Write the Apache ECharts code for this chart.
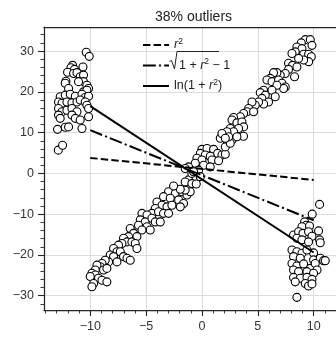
<!DOCTYPE html>
<html>
<head>
<meta charset="utf-8">
<script src="https://cdn.jsdelivr.net/npm/echarts@6/dist/echarts.min.js"></script>
<style>html,body{margin:0;padding:0;background:#fff}#c{width:336px;height:337px}</style>
</head>
<body>
<div id="c"></div>
<script>
// ---- data ----
const titleText = '38% outliers';
const xTicks = [-10, -5, 0, 5, 10];
const xMinorTicks = [-14, -13, -12, -11, -10, -9, -8, -7, -6, -5, -4, -3, -2, -1, 0, 1, 2, 3, 4, 5, 6, 7, 8, 9, 10, 11, 12];
const yTicks = [-30, -20, -10, 0, 10, 20, 30];
const yMinorTicks = [-32, -30, -28, -26, -24, -22, -20, -18, -16, -14, -12, -10, -8, -6, -4, -2, 0, 2, 4, 6, 8, 10, 12, 14, 16, 18, 20, 22, 24, 26, 28, 30, 32, 34];
const xRange = [-14.14, 12.0];
const yRange = [-33.5, 35.9];

const inliers = [
  [-2.99,-4.5],[-2.39,-4.9],[-1.79,-4.5],[-1.34,-5.3],[-3.44,-5.7],[-2.84,-6.1],[-2.09,-6.5],[-1.65,-7.4],[-1.94,-8.2],
  [-4.03,-7.0],[-3.58,-7.8],[-3.13,-8.2],[-2.69,-7.8],[-4.18,-8.6],[-4.48,-9.8],[-3.89,-9.4],[-3.44,-9.8],[-2.99,-9.8],
  [-5.37,-9.8],[-4.92,-10.2],[-5.52,-11.4],[-5.08,-11.9],[-4.48,-11.0],[-4.18,-11.9],[-3.73,-11.9],[-5.68,-12.7],
  [-4.92,-13.1],[-4.63,-13.9],[-5.37,-13.9],[-6.42,-13.5],[-6.12,-14.7],[-5.82,-15.5],[-6.57,-15.5],[-7.02,-15.9],
  [-6.71,-16.8],[-6.27,-16.8],[-5.97,-17.2],[-5.82,-18.4],[-7.16,-17.2],[-7.47,-17.6],[-7.91,-18.4],[-7.61,-19.2],
  [-7.31,-19.2],[-8.21,-20.0],[-7.91,-20.4],[-7.02,-20.4],[-6.71,-20.8],[-6.42,-21.3],[-7.61,-21.7],[-8.36,-21.7],
  [-8.66,-21.3],[-8.95,-22.1],[-9.10,-22.9],[-9.40,-22.5],[-9.55,-23.7],[-8.81,-23.7],[-8.51,-23.3],[-9.85,-24.5],
  [-9.55,-24.9],[-9.26,-25.7],[-10.0,-25.3],[-8.95,-26.2],[-8.51,-26.6],[-9.70,-27.0],[-9.85,-27.8],
  [-1.2,-1.6],[-1.5,-2.1],[-0.9,-2.5],[-0.51,-2.6],[-1.05,-4.5],[-1.5,-4.1],[-1.94,-3.9],[-2.54,-3.1],
  [0,5.9],[0.45,6.1],[1.04,5.9],[1.40,4.9],[-0.15,4.9],[0.30,4.5],[0.74,4.2],[1.79,4.5],[2.09,4.7],[-0.45,3.7],
  [0,3.3],[0.9,3.3],[1.49,3.1],[-0.6,2.5],[0.15,2.0],[0.74,1.6],[-0.3,0.8],[-1.2,1.6],[-1.5,1.2],[-0.9,0],
  [-0.15,-0.8],[-0.75,0.4],
  [3.72,9.1],[1.64,8.6],[2.29,7.7],[2.69,8.2],[2.09,6.5],[2.53,7.4],
  [9.25,32.8],[9.70,32.8],[9.85,31.4],[8.89,32.0],[8.50,31.0],[8.95,30.6],[8.35,29.8],[8.06,29.4],[9.10,29.2],
  [9.55,29.2],[9.79,28.6],[9.55,27.4],[9.10,27.8],[8.65,28.2],[7.75,27.0],[8.11,26.5],[8.50,26.1],[7.75,25.5],
  [8.29,23.7],[7.46,24.5],[7.01,24.1],[6.71,24.7],[6.41,24.7],[6.11,23.3],[5.82,22.9],[6.27,22.5],[6.86,22.9],
  [7.16,22.1],[7.46,21.2],[7.31,20.8],[6.71,21.6],[5.52,20.4],[5.22,19.8],[5.67,19.2],[5.37,18.4],[6.27,20.4],
  [6.56,18.8],[5.96,17.5],[5.52,17.0],[5.07,17.5],[4.77,16.7],[4.48,17.5],[4.18,15.9],[4.03,15.1],[4.62,15.1],
  [3.73,14.7],[3.43,13.9],[2.83,13.7],[2.69,13.1],[3.13,12.4],[3.58,12.6],[3.73,11.4],[3.28,11.0],[2.53,11.0],
  [2.83,10.2],[2.24,10.2],[1.79,9.8],[2.39,9.0],[3.13,9.0],[2.09,8.6]
];
const outliersLeft = [
  [-10.36,29.7],[-10.09,28.7],[-11.58,26.5],[-11.73,25.9],[-11.41,25.5],[-10.65,26.1],[-12.03,24.8],[-11.49,24.5],
  [-11.19,24.7],[-10.9,23.7],[-10.6,24.1],[-12.18,22.6],[-12.24,22.1],[-10.6,22.5],[-10.3,21.6],[-11.05,22.5],
  [-11.94,20.8],[-10.15,20.8],[-10.6,20.0],[-10.3,20.4],[-12.69,18.8],[-12.24,19.2],[-11.79,19.4],[-11.34,18.9],
  [-10.74,19.4],[-10.45,18.6],[-10.15,18.9],[-12.84,17.5],[-12.53,17.2],[-12.09,17.5],[-11.64,17.3],[-11.19,17.5],
  [-10.9,18.0],[-10.45,17.5],[-10.3,16.7],[-12.84,15.9],[-12.53,15.1],[-12.09,15.5],[-11.64,15.9],[-11.19,15.1],
  [-10.15,15.9],[-12.84,14.3],[-12.69,13.5],[-11.64,14.3],[-11.34,13.5],[-10.9,13.1],[-10.15,13.9],[-12.93,10.8],
  [-12.24,11.3],[-11.94,11.4],[-10.74,11.0],[-12.86,5.7],[-12.48,6.9]
];
const outliersRight = [
  [10.53,-7.6],[9.87,-10.0],[9.19,-11.9],[9.34,-12.7],[8.95,-13.1],[9.63,-12.9],[8.20,-15.1],[8.65,-14.3],[9.04,-14.7],
  [9.54,-14.3],[9.85,-15.4],[10.44,-14.1],[8.50,-15.9],[8.95,-16.3],[9.54,-16.8],[10.53,-16.3],[10.59,-17.0],
  [8.06,-18.8],[8.50,-19.2],[8.95,-19.6],[9.99,-19.5],[9.40,-18.8],[8.20,-20.4],[8.80,-20.8],[9.99,-21.2],
  [10.59,-20.8],[10.89,-21.4],[8.06,-22.1],[8.50,-22.7],[9.10,-22.2],[9.70,-23.3],[10.14,-22.1],[10.30,-23.7],
  [8.2,-23.7],[8.65,-24.1],[9.4,-24.1],[9.99,-24.5],[8.2,-25.5],[8.8,-25.7],[9.4,-25.5],[9.85,-26.0],[8.35,-26.6],
  [9.25,-27.0],[9.54,-27.6],[9.85,-27.1],[8.50,-30.4],[11.04,-21.4]
];
const fitX = [-10, 10];
const fitSquaredY = [3.8, -1.6];
const fitSqrtY = [10.6, -11.5];
const fitLogY = [16.5, -19.4];
const seriesNames = ['r2', 'sqrt', 'log'];

// ---- chart ----
const FONT = 'Liberation Sans, Arial, sans-serif';
const fmt = v => String(v).replace('-', '\u2212');
const pairs = (xs, ys) => xs.map((x, i) => [x, ys[i]]);
const axisColor = '#262626';
const dashTypes = {r2: [7.4, 3.2], sqrt: [12.8, 3.2, 2, 3.2], log: 'solid'};

const chart = echarts.init(document.getElementById('c'), null, {renderer: 'canvas'});
const legendLabels = {
  r2: '{i|r}{s|2}',
  sqrt: '{q|}{t|1 + }{i|r}{s|2}{t| \u2212 1}',
  log: '{t|ln(1 + }{i|r}{s|2}{t|)}'
};
const lineSeries = (name, ys) => ({
  name: name, type: 'line', data: pairs(fitX, ys), symbol: 'none', z: 5,
  lineStyle: {color: '#000', width: 2, type: dashTypes[name]}, itemStyle: {color: '#000'},
  silent: true, animation: false
});
chart.setOption({
  animation: false,
  title: {text: titleText, left: 150, top: 5, textStyle: {fontFamily: FONT, fontSize: 14, fontWeight: 'normal', color: '#222'}},
  grid: {left: 44, top: 27, right: 0, bottom: 27, containLabel: false},
  legend: {
    orient: 'vertical', left: 137, top: 32, itemWidth: 26, itemHeight: 14, itemGap: 6,
    selectedMode: false,
    data: seriesNames.map(n => ({name: n, itemStyle: {opacity: 0, borderWidth: 0},
      lineStyle: {color: '#000', width: 2, type: dashTypes[n]}})),
    itemStyle: {opacity: 0, borderWidth: 0},
    formatter: n => legendLabels[n],
    textStyle: {
      fontFamily: FONT, fontSize: 12.5, color: '#222',
      rich: {
        q: {width: 5, lineHeight: 16},
        t: {fontFamily: FONT, fontSize: 12.5, color: '#222', lineHeight: 16},
        i: {fontFamily: FONT, fontSize: 12.5, fontStyle: 'italic', color: '#222', lineHeight: 16},
        s: {fontFamily: FONT, fontSize: 8.5, color: '#222', lineHeight: 7, verticalAlign: 'top'}
      }
    }
  },
  xAxis: [
    {type: 'value', min: xRange[0], max: xRange[1], position: 'bottom',
     axisLine: {show: true, onZero: false, lineStyle: {color: axisColor, width: 1.25}},
     axisTick: {show: true, length: 6, customValues: xTicks, lineStyle: {color: axisColor, width: 1.1}},
     axisLabel: {customValues: xTicks, formatter: fmt, margin: 10, fontFamily: FONT, fontSize: 12.5, color: '#333'},
     splitLine: {show: true, lineStyle: {color: '#dcdcdc', width: 1}}},
    {type: 'value', min: xRange[0], max: xRange[1], position: 'bottom',
     axisLine: {show: false, onZero: false},
     axisTick: {show: true, length: 3.5, customValues: xMinorTicks, lineStyle: {color: axisColor, width: 0.9}},
     axisLabel: {show: false}, splitLine: {show: false}},
    {type: 'value', min: xRange[0], max: xRange[1], position: 'top',
     axisLine: {show: true, onZero: false, lineStyle: {color: axisColor, width: 1.25}},
     axisTick: {show: false}, axisLabel: {show: false}, splitLine: {show: false}}
  ],
  yAxis: [
    {type: 'value', min: yRange[0], max: yRange[1], position: 'left',
     axisLine: {show: true, onZero: false, lineStyle: {color: axisColor, width: 1.25}},
     axisTick: {show: true, length: 6, customValues: yTicks, lineStyle: {color: axisColor, width: 1.1}},
     axisLabel: {customValues: yTicks, formatter: fmt, margin: 10, fontFamily: FONT, fontSize: 12.5, color: '#333'},
     splitLine: {show: true, lineStyle: {color: '#dcdcdc', width: 1}}},
    {type: 'value', min: yRange[0], max: yRange[1], position: 'left',
     axisLine: {show: false, onZero: false},
     axisTick: {show: true, length: 3.5, customValues: yMinorTicks, lineStyle: {color: axisColor, width: 0.9}},
     axisLabel: {show: false}, splitLine: {show: false}}
  ],
  graphic: [
    {type: 'polyline', z: 100, shape: {points: [[169.5, 61.5], [171.5, 60.5], [174.5, 69], [177, 51.5], [219, 51.5]]},
     style: {stroke: '#222', lineWidth: 1, fill: null}}
  ],
  series: [
    {name: 'points', type: 'scatter', data: inliers.concat(outliersLeft, outliersRight),
     symbol: 'circle', symbolSize: 8, z: 2,
     itemStyle: {color: '#fff', borderColor: '#000', borderWidth: 1.1, opacity: 1}, silent: true},
    lineSeries('r2', fitSquaredY),
    lineSeries('sqrt', fitSqrtY),
    lineSeries('log', fitLogY)
  ]
});
</script>
</body>
</html>
